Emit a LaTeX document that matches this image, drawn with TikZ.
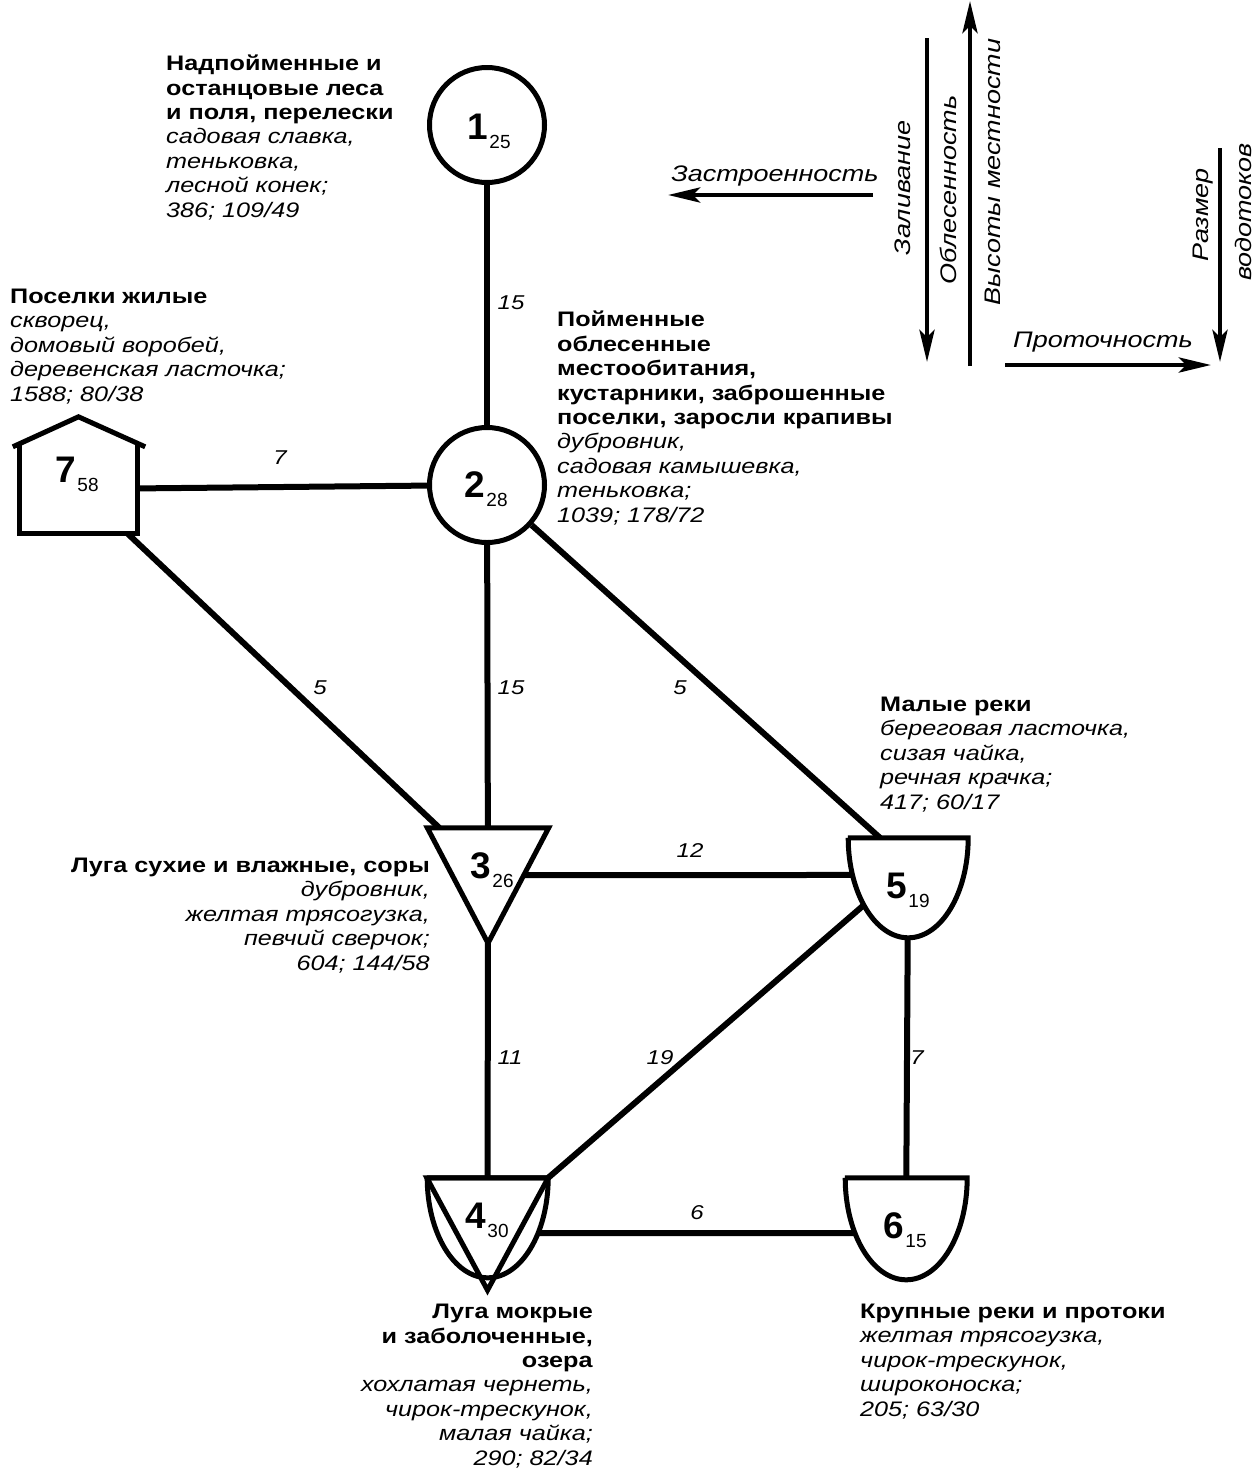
\documentclass[tikz,border=0pt]{standalone}
\usepackage{fontspec}
\setmainfont{Liberation Sans}
\newfontfamily\wide[FakeStretch=1.2]{Liberation Sans}
\usetikzlibrary{arrows.meta,calc}

\begin{document}
\begin{tikzpicture}[x=1pt,y=-1pt,
  edge/.style={line width=6pt},
  outline/.style={line width=5pt, line join=miter},
  hab/.style={circle, draw, line width=5pt, fill=white, minimum size=115, inner sep=0pt},
  box/.style={inner sep=0pt},
  num/.style={anchor=base west, inner sep=0pt},
  txt/.style={inner sep=0pt, anchor=base west, align=left, font=\wide\fontsize{21}{24.4}\selectfont},
  txtr/.style={txt, anchor=base east, align=right},
  elab/.style={inner sep=0pt, font=\wide\fontsize{20}{20}\selectfont\itshape},
  alab/.style={inner sep=0pt, font=\wide\fontsize{22.5}{22.5}\selectfont\itshape},
  axis/.style={line width=4.5pt, -{Stealth[length=32pt,width=15pt,inset=7pt]}},
]
\useasboundingbox (0,0) rectangle (1257,1470);

\newcommand{\hnum}[2]{{\bfseries\fontsize{37}{37}\selectfont #1}\,\raisebox{-9pt}{\fontsize{19}{19}\selectfont #2}}

% habitat symbols
\node[hab] (n1) at (487,125) {};
\node[hab] (n2) at (487,485) {};
\node[box, minimum width=117, minimum height=88] (n7) at (78.5,489) {};
\node[box, minimum width=121, minimum height=115] (n3) at (488,885.5) {};
\node[box, minimum width=120, minimum height=100] (n5) at (908,888) {};
\node[box, minimum width=121, minimum height=100] (n4) at (487.5,1228) {};
\node[box, minimum width=122, minimum height=102] (n6) at (906,1229) {};

% links between habitats
\draw[edge] (n1) -- (n2);
\draw[edge] (n7) -- (n2);
\draw[edge] ($(n7.south east)+(-10,0)$) -- ($(n3.north west)+(12,0)$);
\draw[edge] (n2) -- (n3);
\draw[edge] (n2) -- ($(n5.north)+(-28,0)$);
\draw[edge] ($(n3.north)!0.41!(n3.south)$) -- ($(n5.north)!0.37!(n5.south)$);
\draw[edge] (n3) -- (n4);
\draw[edge] (n4.north east) -- ($(n5.north)!0.29!(n5.south)$);
\draw[edge] (n5) -- (n6);
\draw[edge] ($(n4.north)!0.55!(n4.south)$) -- ($(n6.north)!0.54!(n6.south)$);

% house
\draw[outline, fill=white] (n7.north west) -- (n7.south west) -- (n7.south east) -- (n7.north east);
\draw[outline] ($(n7.north west)+(-7,2)$) -- ($(n7.north)+(0,-28)$) -- ($(n7.north east)+(8,2)$);
% dry meadows: triangle
\draw[outline, fill=white] (n3.north west) -- (n3.north east) -- (n3.south) -- cycle;
% small rivers: bowl
\draw[outline, fill=white] (n5.north west) -- (n5.north east)
  arc[start angle=0, end angle=180, x radius=60, y radius=100] -- cycle;
% large rivers: bowl
\draw[outline, fill=white] (n6.north west) -- (n6.north east)
  arc[start angle=0, end angle=180, x radius=61, y radius=102] -- cycle;
% wet meadows: bowl with triangle
\fill[white] (n4.north west) -- (n4.north east)
  arc[start angle=0, end angle=180, x radius=60.5, y radius=100] -- cycle;
\draw[outline, fill=white] (n4.north west) -- (n4.north east) -- ($(n4.south)+(0,12)$) -- cycle;
\draw[outline] (n4.north west) -- (n4.north east)
  arc[start angle=0, end angle=180, x radius=60.5, y radius=100] -- cycle;

% habitat numbers
\node[num] (l1) at (467,139) {\hnum{1}{25}};
\node[num] (l2) at (464,497) {\hnum{2}{28}};
\node[num] (l7) at (55,482) {\hnum{7}{58}};
\node[num] (l3) at (470,878) {\hnum{3}{26}};
\node[num] (l4) at (465,1228) {\hnum{4}{30}};
\node[num] (l5) at (886,898) {\hnum{5}{19}};
\node[num] (l6) at (883,1238) {\hnum{6}{15}};

% link weights
\node[elab] (w12) at (511,303) {15};
\node[elab] (w72) at (280,458) {7};
\node[elab] (w73) at (320,688) {5};
\node[elab] (w23) at (511,688) {15};
\node[elab] (w25) at (680,688) {5};
\node[elab] (w35) at (690,851) {12};
\node[elab] (w34) at (510,1058) {11};
\node[elab] (w45) at (660,1058) {19};
\node[elab] (w56) at (917,1058) {7};
\node[elab] (w46) at (697,1213) {6};

% habitat descriptions (placed by the baseline of their last line)
\node[txt] (t1) at (166,217) {\textbf{Надпойменные и}\\\textbf{останцовые леса}\\\textbf{и поля, перелески}\\\textit{садовая славка,}\\\textit{теньковка,}\\\textit{лесной конек;}\\\textit{386; 109/49}};
\node[txt] (t7) at (10,401) {\textbf{Поселки жилые}\\\textit{скворец,}\\\textit{домовый воробей,}\\\textit{деревенская ласточка;}\\\textit{1588; 80/38}};
\node[txt] (t2) at (557,522) {\textbf{Пойменные}\\\textbf{облесенные}\\\textbf{местообитания,}\\\textbf{кустарники, заброшенные}\\\textbf{поселки, заросли крапивы}\\\textit{дубровник,}\\\textit{садовая камышевка,}\\\textit{теньковка;}\\\textit{1039; 178/72}};
\node[txtr] (t3) at (430,970) {\textbf{Луга сухие и влажные, соры}\\\textit{дубровник,}\\\textit{желтая трясогузка,}\\\textit{певчий сверчок;}\\\textit{604; 144/58}};
\node[txt] (t5) at (880,809) {\textbf{Малые реки}\\\textit{береговая ласточка,}\\\textit{сизая чайка,}\\\textit{речная крачка;}\\\textit{417; 60/17}};
\node[txtr] (t4) at (593,1465) {\textbf{Луга мокрые}\\\textbf{и заболоченные,}\\\textbf{озера}\\\textit{хохлатая чернеть,}\\\textit{чирок-трескунок,}\\\textit{малая чайка;}\\\textit{290; 82/34}};
\node[txt] (t6) at (860,1416) {\textbf{Крупные реки и протоки}\\\textit{желтая трясогузка,}\\\textit{чирок-трескунок,}\\\textit{широконоска;}\\\textit{205; 63/30}};

% environmental gradients
\coordinate (zs1) at (873,195); \coordinate (zs2) at (668,195);
\draw[axis] (zs1) -- (zs2);
\node[alab] (zst) at (775,176) {Застроенность};
\coordinate (zl1) at (927,38); \coordinate (zl2) at (927,362);
\draw[axis] (zl1) -- (zl2);
\node[alab, rotate=90] (zlt) at (903,188) {Заливание};
\coordinate (ob1) at (970,366); \coordinate (ob2) at (970,1);
\draw[axis] (ob1) -- (ob2);
\node[alab, rotate=90] (obt) at (948,190) {Облесенность};
\node[alab, rotate=90] (vst) at (993,172) {Высоты местности};
\coordinate (pr1) at (1005,365); \coordinate (pr2) at (1211,365);
\draw[axis] (pr1) -- (pr2);
\node[alab] (prt) at (1103,342) {Проточность};
\coordinate (rv1) at (1220,148); \coordinate (rv2) at (1220,362);
\draw[axis] (rv1) -- (rv2);
\node[alab, rotate=90] (rvt1) at (1203,215) {Размер};
\node[alab, rotate=90] (rvt2) at (1243,212) {водотоков};
\end{tikzpicture}
\end{document}
